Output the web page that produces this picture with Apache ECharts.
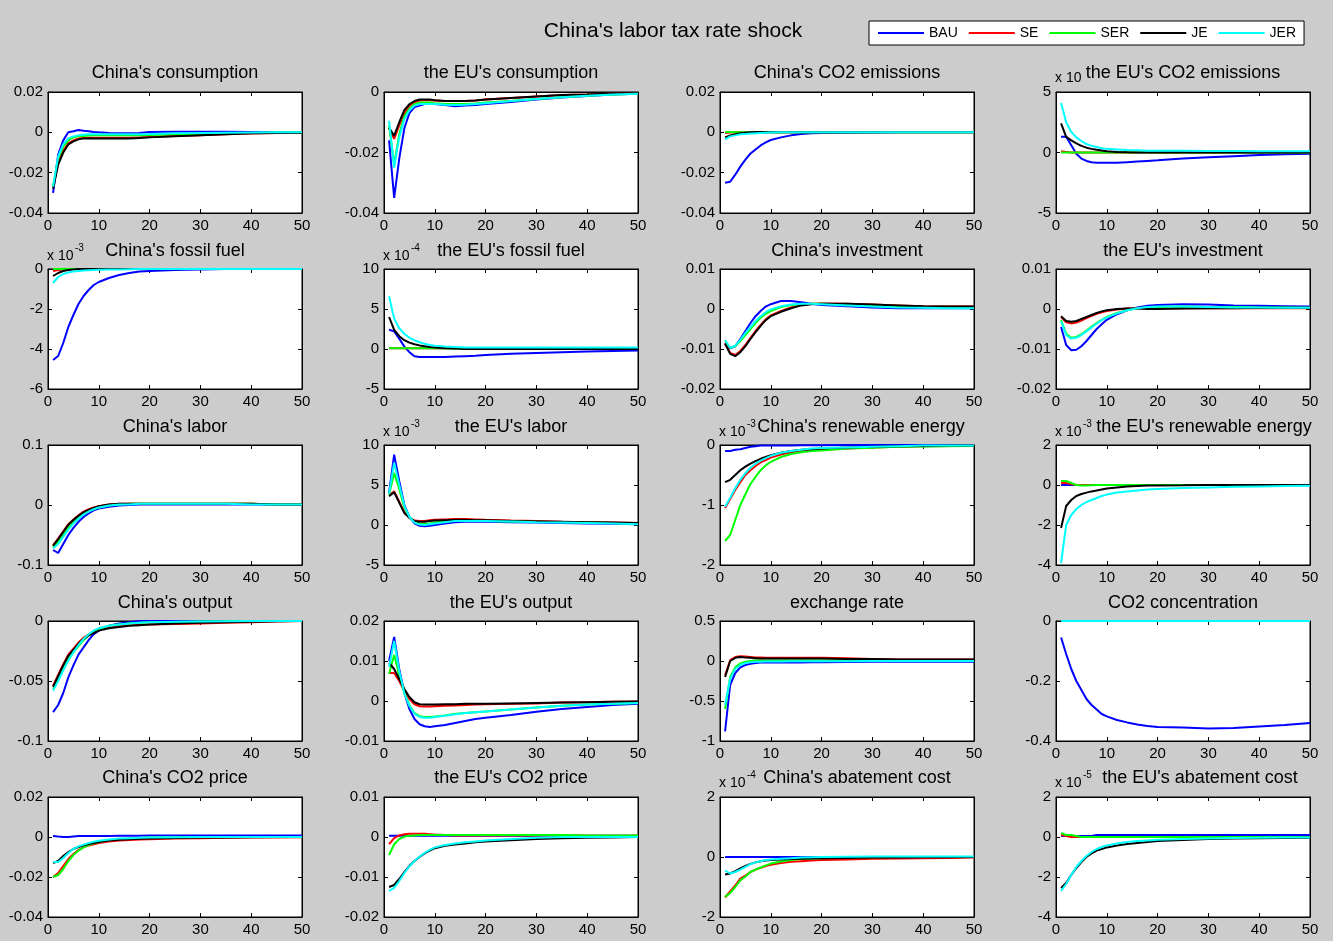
<!DOCTYPE html>
<html>
<head>
<meta charset="utf-8">
<title>China's labor tax rate shock</title>
<script src="https://cdn.jsdelivr.net/npm/echarts@6.0.0/dist/echarts.min.js"></script>
<style>
  html, body { margin: 0; padding: 0; background: #cccccc; }
  #main { width: 1333px; height: 941px; }
</style>
</head>
<body>
<div id="main"></div>
<script>
// periods sampled from the 50-period impulse responses
const periods = [1, 2, 3, 4, 5, 6, 7, 8, 9, 10, 12, 14, 16, 18, 20, 25, 30, 35, 40, 45, 50];
const scenarios = ['BAU', 'SE', 'SER', 'JE', 'JER'];
const colors = ['#0000ff', '#ff0000', '#00ff00', '#000000', '#00ffff'];

// each panel: [BAU, SE, SER, JE, JER]
const cnConsumption = [
  [-0.030, -0.011, -0.004, 0.000, 0.0005, 0.0012, 0.0008, 0.0005, 0.0002, 0.0000, -0.0003, -0.0005, -0.0005, -0.0003, 0.0002, 0.0003, 0.0003, 0.0003, 0.0002, 0.0000, 0.0000],
  [-0.027, -0.015, -0.009, -0.0055, -0.004, -0.003, -0.0028, -0.0027, -0.0027, -0.0027, -0.0027, -0.0027, -0.0027, -0.0025, -0.0023, -0.0018, -0.0014, -0.001, -0.0006, -0.0003, -0.0002],
  [-0.027, -0.013, -0.007, -0.004, -0.0025, -0.002, -0.0018, -0.0016, -0.0015, -0.0015, -0.0015, -0.0015, -0.0015, -0.0014, -0.0013, -0.001, -0.0007, -0.0005, -0.0003, -0.0001, 0],
  [-0.028, -0.016, -0.010, -0.006, -0.0045, -0.0035, -0.003, -0.003, -0.003, -0.003, -0.003, -0.003, -0.003, -0.0028, -0.0025, -0.002, -0.0015, -0.001, -0.0005, -0.0003, -0.0002],
  [-0.027, -0.012, -0.006, -0.003, -0.002, -0.0015, -0.0012, -0.001, -0.001, -0.001, -0.001, -0.001, -0.001, -0.0009, -0.0008, -0.0005, -0.0003, -0.0002, -0.0001, 0, 0]
];
const euConsumption = [
  [-0.016, -0.035, -0.022, -0.012, -0.007, -0.005, -0.0045, -0.004, -0.004, -0.004, -0.0043, -0.0047, -0.0045, -0.0043, -0.004, -0.0033, -0.0025, -0.0018, -0.0013, -0.0008, -0.0006],
  [-0.012, -0.0155, -0.011, -0.007, -0.0045, -0.0033, -0.0028, -0.0027, -0.0027, -0.0028, -0.003, -0.003, -0.003, -0.0028, -0.0025, -0.002, -0.0015, -0.001, -0.0008, -0.0005, -0.0004],
  [-0.011, -0.024, -0.014, -0.008, -0.0055, -0.004, -0.0035, -0.0035, -0.0035, -0.0037, -0.004, -0.004, -0.004, -0.0038, -0.0035, -0.003, -0.0023, -0.0017, -0.0012, -0.0008, -0.0006],
  [-0.0118, -0.0145, -0.010, -0.006, -0.004, -0.003, -0.0025, -0.0025, -0.0025, -0.0027, -0.003, -0.003, -0.003, -0.0028, -0.0025, -0.002, -0.0015, -0.001, -0.0008, -0.0005, -0.0004],
  [-0.0095, -0.025, -0.015, -0.009, -0.006, -0.0045, -0.004, -0.004, -0.004, -0.004, -0.0042, -0.0043, -0.0042, -0.004, -0.0037, -0.003, -0.0023, -0.0017, -0.0012, -0.0008, -0.0006]
];
const cnEmissions = [
  [-0.025, -0.0245, -0.021, -0.017, -0.0135, -0.0105, -0.0085, -0.0065, -0.005, -0.0038, -0.0025, -0.0015, -0.0008, -0.0005, -0.0003, -0.0002, -0.0001, 0, 0, 0, 0],
  [-0.0003, -0.0001, 0, 0, 0, 0, 0, 0, 0, 0, 0, 0, 0, 0, 0, 0, 0, 0, 0, 0, 0],
  [0.0002, 0.0002, 0.0001, 0, 0, 0, 0, 0, 0, 0, 0, 0, 0, 0, 0, 0, 0, 0, 0, 0, 0],
  [-0.0025, -0.0015, -0.001, -0.0005, -0.0002, 0, 0.0002, 0.0002, 0.0001, 0, 0, 0, 0, 0, 0, 0, 0, 0, 0, 0, 0],
  [-0.0035, -0.002, -0.0015, -0.001, -0.0008, -0.0006, -0.0004, -0.0003, -0.0002, -0.0001, 0, 0, 0, 0, 0, 0, 0, 0, 0, 0, 0]
];
const euEmissions = [
  [1.3, 1.3, 0.6, -0.1, -0.5, -0.7, -0.8, -0.85, -0.85, -0.85, -0.85, -0.8, -0.75, -0.7, -0.65, -0.5, -0.4, -0.3, -0.2, -0.15, -0.1],
  [0.1, 0.05, 0, 0, 0, 0, 0, 0, 0, 0, 0, 0, 0, 0, 0, 0, 0, 0, 0, 0, 0],
  [0, 0, 0, 0, 0, 0, 0, 0, 0, 0, 0, 0, 0, 0, 0, 0, 0, 0, 0, 0, 0],
  [2.4, 1.3, 1.0, 0.75, 0.55, 0.4, 0.3, 0.22, 0.16, 0.1, 0.05, 0.02, 0, 0, 0, 0, 0, 0, 0, 0, 0],
  [4.1, 2.5, 1.7, 1.25, 0.95, 0.7, 0.55, 0.45, 0.35, 0.3, 0.25, 0.2, 0.18, 0.15, 0.15, 0.15, 0.12, 0.12, 0.1, 0.1, 0.1]
];
const cnFossil = [
  [-4.55, -4.35, -3.7, -2.9, -2.3, -1.75, -1.35, -1.05, -0.8, -0.65, -0.45, -0.3, -0.2, -0.13, -0.1, -0.05, -0.02, 0, 0, 0, 0],
  [-0.1, -0.05, -0.02, 0, 0, 0, 0, 0, 0, 0, 0, 0, 0, 0, 0, 0, 0, 0, 0, 0, 0],
  [0, 0, 0, 0, 0, 0, 0, 0, 0, 0, 0, 0, 0, 0, 0, 0, 0, 0, 0, 0, 0],
  [-0.35, -0.2, -0.1, -0.05, -0.02, 0, 0, 0, 0, 0, 0, 0, 0, 0, 0, 0, 0, 0, 0, 0, 0],
  [-0.7, -0.4, -0.25, -0.17, -0.12, -0.1, -0.08, -0.06, -0.05, -0.04, -0.03, -0.02, -0.01, 0, 0, 0, 0, 0, 0, 0, 0]
];
const euFossil = [
  [2.4, 2.2, 1.3, 0.3, -0.4, -0.9, -1.0, -1.0, -1.0, -1.0, -1.0, -0.95, -0.9, -0.85, -0.75, -0.6, -0.5, -0.4, -0.3, -0.25, -0.2],
  [0.1, 0.1, 0.1, 0.1, 0.1, 0.1, 0.1, 0.1, 0.1, 0.1, 0.1, 0.1, 0.1, 0.1, 0.1, 0.1, 0.1, 0.1, 0.1, 0.1, 0.1],
  [0.1, 0.1, 0.1, 0.1, 0.1, 0.1, 0.1, 0.1, 0.1, 0.1, 0.1, 0.05, 0, 0, 0, 0, 0, 0, 0, 0, 0],
  [4.0, 2.4, 1.6, 1.1, 0.8, 0.6, 0.45, 0.35, 0.25, 0.2, 0.1, 0.05, 0, 0, 0, 0, 0, 0, 0, 0, 0],
  [6.6, 3.8, 2.6, 1.9, 1.4, 1.1, 0.85, 0.65, 0.5, 0.4, 0.3, 0.25, 0.2, 0.2, 0.2, 0.2, 0.2, 0.2, 0.2, 0.2, 0.2]
];
const cnInvestment = [
  [-0.0085, -0.0098, -0.0093, -0.0075, -0.0055, -0.0035, -0.0018, -0.0005, 0.0006, 0.0012, 0.002, 0.002, 0.0017, 0.0013, 0.001, 0.0007, 0.0004, 0.0002, 0.0002, 0.0002, 0.0002],
  [-0.0085, -0.011, -0.0115, -0.0105, -0.009, -0.0072, -0.0055, -0.004, -0.0026, -0.0016, -0.0005, 0.0004, 0.001, 0.0013, 0.0014, 0.0013, 0.0011, 0.0009, 0.0007, 0.0006, 0.0006],
  [-0.008, -0.0097, -0.0093, -0.008, -0.0065, -0.005, -0.0035, -0.0022, -0.0012, -0.0005, 0.0005, 0.001, 0.0012, 0.0013, 0.0013, 0.0011, 0.0008, 0.0006, 0.0004, 0.0003, 0.0003],
  [-0.0087, -0.0112, -0.0118, -0.0108, -0.0093, -0.0075, -0.0058, -0.0042, -0.0028, -0.0018, -0.0007, 0.0002, 0.0009, 0.0012, 0.0013, 0.0013, 0.0011, 0.0009, 0.0007, 0.0006, 0.0006],
  [-0.0078, -0.0097, -0.0092, -0.0077, -0.006, -0.0045, -0.003, -0.0018, -0.0008, -0.0001, 0.0007, 0.0011, 0.0013, 0.0013, 0.0012, 0.0009, 0.0006, 0.0004, 0.0003, 0.0002, 0.0002]
];
const euInvestment = [
  [-0.0045, -0.009, -0.0103, -0.0102, -0.0093, -0.008, -0.0065, -0.005, -0.0038, -0.0027, -0.0013, -0.0003, 0.0004, 0.0008, 0.001, 0.0012, 0.0011, 0.0009, 0.0008, 0.0007, 0.0006],
  [-0.002, -0.0033, -0.0036, -0.0034, -0.0029, -0.0023, -0.0017, -0.0012, -0.0008, -0.0005, -0.0001, 0.0001, 0.0002, 0.0002, 0.0002, 0.0002, 0.0002, 0.0002, 0.0002, 0.0002, 0.0002],
  [-0.0028, -0.0062, -0.0072, -0.007, -0.0063, -0.0054, -0.0044, -0.0035, -0.0027, -0.002, -0.001, -0.0003, 0.0002, 0.0004, 0.0005, 0.0006, 0.0005, 0.0005, 0.0004, 0.0004, 0.0003],
  [-0.0018, -0.003, -0.0032, -0.003, -0.0025, -0.002, -0.0015, -0.001, -0.0006, -0.0003, 0, 0.0001, 0.0001, 0, 0, 0.0001, 0.0002, 0.0002, 0.0003, 0.0003, 0.0003],
  [-0.003, -0.0065, -0.0074, -0.0072, -0.0065, -0.0056, -0.0046, -0.0037, -0.0028, -0.0021, -0.0011, -0.0003, 0.0002, 0.0005, 0.0006, 0.0006, 0.0005, 0.0004, 0.0004, 0.0003, 0.0003]
];
const cnLabor = [
  [-0.075, -0.080, -0.065, -0.05, -0.038, -0.028, -0.02, -0.014, -0.009, -0.006, -0.003, -0.001, 0, 0.001, 0.001, 0.001, 0.001, 0.001, 0.001, 0.0005, 0],
  [-0.067, -0.056, -0.044, -0.032, -0.024, -0.017, -0.011, -0.007, -0.004, -0.002, 0.001, 0.002, 0.002, 0.002, 0.002, 0.002, 0.002, 0.002, 0.002, 0.001, 0.001],
  [-0.07, -0.062, -0.05, -0.038, -0.029, -0.021, -0.015, -0.01, -0.007, -0.004, -0.001, 0.001, 0.002, 0.002, 0.002, 0.002, 0.002, 0.002, 0.002, 0.001, 0.001],
  [-0.068, -0.057, -0.045, -0.033, -0.025, -0.018, -0.012, -0.008, -0.005, -0.002, 0.001, 0.002, 0.002, 0.002, 0.002, 0.002, 0.002, 0.002, 0.002, 0.001, 0.001],
  [-0.072, -0.065, -0.053, -0.041, -0.031, -0.023, -0.016, -0.011, -0.007, -0.004, -0.001, 0.001, 0.001, 0.002, 0.002, 0.002, 0.002, 0.002, 0.001, 0.001, 0.001]
];
const euLabor = [
  [4.0, 8.8, 5.5, 2.5, 1.0, 0.2, -0.1, -0.15, -0.1, 0.0, 0.2, 0.35, 0.4, 0.4, 0.4, 0.35, 0.3, 0.25, 0.2, 0.15, 0.1],
  [3.7, 4.2, 2.9, 1.6, 0.9, 0.55, 0.5, 0.5, 0.6, 0.65, 0.7, 0.75, 0.75, 0.7, 0.65, 0.55, 0.5, 0.4, 0.35, 0.3, 0.25],
  [3.8, 6.5, 4.5, 2.2, 1.0, 0.4, 0.2, 0.15, 0.2, 0.3, 0.45, 0.55, 0.55, 0.55, 0.5, 0.45, 0.4, 0.35, 0.3, 0.25, 0.2],
  [3.6, 4.1, 2.8, 1.5, 0.9, 0.5, 0.4, 0.4, 0.5, 0.55, 0.6, 0.65, 0.65, 0.6, 0.6, 0.5, 0.45, 0.4, 0.35, 0.3, 0.25],
  [3.9, 7.8, 5.0, 2.4, 1.0, 0.3, 0.05, 0.0, 0.1, 0.2, 0.35, 0.5, 0.5, 0.5, 0.5, 0.45, 0.35, 0.3, 0.25, 0.2, 0.1]
];
const cnRenewable = [
  [-0.1, -0.1, -0.08, -0.07, -0.05, -0.03, -0.02, -0.01, -0.01, -0.01, -0.01, -0.01, -0.005, -0.005, -0.005, 0, 0, 0, 0, 0, 0],
  [-1.05, -0.9, -0.75, -0.62, -0.5, -0.42, -0.35, -0.29, -0.25, -0.21, -0.16, -0.12, -0.1, -0.09, -0.08, -0.06, -0.04, -0.03, -0.02, -0.015, -0.01],
  [-1.6, -1.5, -1.25, -1.0, -0.82, -0.65, -0.53, -0.42, -0.34, -0.28, -0.2, -0.15, -0.12, -0.1, -0.09, -0.06, -0.045, -0.03, -0.025, -0.02, -0.015],
  [-0.62, -0.58, -0.5, -0.42, -0.36, -0.31, -0.27, -0.23, -0.2, -0.17, -0.13, -0.1, -0.08, -0.07, -0.06, -0.04, -0.03, -0.02, -0.015, -0.01, -0.01],
  [-1.03, -0.88, -0.72, -0.58, -0.47, -0.38, -0.31, -0.26, -0.22, -0.18, -0.13, -0.1, -0.08, -0.06, -0.05, -0.04, -0.03, -0.02, -0.01, -0.01, -0.01]
];
const euRenewable = [
  [0, 0, 0, 0, 0, 0, 0, 0, 0, 0, 0, 0, 0, 0, 0, 0, 0, 0, 0, 0, 0],
  [0.1, 0.1, 0.05, 0, 0, 0, 0, 0, 0, 0, 0, 0, 0, 0, 0, 0, 0, 0, 0, 0, 0],
  [0.2, 0.2, 0.1, 0, -0.02, -0.02, -0.01, 0, 0, 0, 0, 0, 0, 0, 0, 0, 0, 0, 0, 0, 0],
  [-2.15, -1.05, -0.75, -0.55, -0.45, -0.38, -0.32, -0.27, -0.22, -0.18, -0.12, -0.08, -0.05, -0.03, -0.02, -0.01, 0, 0, 0, 0, 0],
  [-3.9, -2.0, -1.5, -1.2, -1.0, -0.85, -0.75, -0.65, -0.55, -0.48, -0.38, -0.32, -0.27, -0.23, -0.2, -0.15, -0.12, -0.09, -0.07, -0.05, -0.04]
];
const cnOutput = [
  [-0.076, -0.07, -0.06, -0.047, -0.037, -0.028, -0.022, -0.016, -0.011, -0.008, -0.004, -0.002, -0.001, 0, 0, 0, 0, 0, 0, 0, 0],
  [-0.054, -0.045, -0.036, -0.028, -0.023, -0.018, -0.014, -0.011, -0.009, -0.007, -0.005, -0.004, -0.0035, -0.003, -0.003, -0.0025, -0.002, -0.0015, -0.001, -0.0005, 0],
  [-0.057, -0.049, -0.04, -0.032, -0.026, -0.021, -0.016, -0.012, -0.009, -0.007, -0.004, -0.003, -0.002, -0.0015, -0.001, -0.0008, -0.0005, -0.0003, 0, 0, 0],
  [-0.055, -0.046, -0.037, -0.029, -0.024, -0.019, -0.015, -0.012, -0.01, -0.008, -0.006, -0.005, -0.004, -0.0035, -0.003, -0.002, -0.0015, -0.001, -0.0007, -0.0003, 0],
  [-0.058, -0.05, -0.041, -0.033, -0.026, -0.02, -0.015, -0.011, -0.008, -0.006, -0.004, -0.003, -0.002, -0.0015, -0.001, -0.0007, -0.0004, -0.0002, 0, 0, 0]
];
const euOutput = [
  [0.01, 0.016, 0.008, 0.002, -0.002, -0.0045, -0.0058, -0.0063, -0.0065, -0.0063, -0.006, -0.0055, -0.005, -0.0045, -0.0042, -0.0035, -0.0027, -0.002, -0.0015, -0.001, -0.0007],
  [0.007, 0.007, 0.005, 0.0025, 0.0005, -0.0008, -0.0013, -0.0014, -0.0014, -0.0013, -0.0012, -0.0011, -0.001, -0.0009, -0.0008, -0.0007, -0.0006, -0.0004, -0.0003, -0.0002, -0.0001],
  [0.0068, 0.0115, 0.0065, 0.002, -0.001, -0.003, -0.0038, -0.004, -0.004, -0.0039, -0.0036, -0.0032, -0.003, -0.0028, -0.0026, -0.0021, -0.0016, -0.0012, -0.0009, -0.0007, -0.0005],
  [0.0095, 0.008, 0.0055, 0.003, 0.001, -0.0003, -0.0008, -0.0009, -0.0009, -0.0009, -0.0008, -0.0008, -0.0007, -0.0007, -0.0007, -0.0006, -0.0005, -0.0004, -0.0003, -0.0002, -0.0001],
  [0.0085, 0.015, 0.0075, 0.002, -0.0012, -0.0032, -0.004, -0.0042, -0.0042, -0.004, -0.0037, -0.0033, -0.003, -0.0028, -0.0026, -0.0021, -0.0016, -0.0012, -0.0009, -0.0007, -0.0005]
];
const exchangeRate = [
  [-0.88, -0.3, -0.15, -0.08, -0.05, -0.035, -0.025, -0.02, -0.02, -0.02, -0.02, -0.02, -0.018, -0.017, -0.015, -0.013, -0.01, -0.01, -0.01, -0.01, -0.01],
  [-0.18, 0.01, 0.05, 0.06, 0.055, 0.05, 0.045, 0.045, 0.04, 0.04, 0.04, 0.04, 0.04, 0.04, 0.04, 0.035, 0.025, 0.02, 0.02, 0.02, 0.02],
  [-0.6, -0.2, -0.08, -0.03, -0.01, 0, 0.005, 0.005, 0.005, 0.005, 0.005, 0.005, 0.005, 0.005, 0.005, 0.005, 0.005, 0.005, 0.005, 0.005, 0.005],
  [-0.2, 0, 0.04, 0.05, 0.045, 0.04, 0.035, 0.03, 0.03, 0.03, 0.03, 0.03, 0.03, 0.03, 0.03, 0.025, 0.025, 0.02, 0.02, 0.02, 0.02],
  [-0.55, -0.22, -0.1, -0.05, -0.025, -0.015, -0.01, -0.008, -0.006, -0.005, -0.005, -0.004, -0.004, -0.003, -0.003, -0.002, -0.001, 0, 0, 0, 0]
];
const co2Concentration = [
  [-0.055, -0.11, -0.16, -0.2, -0.23, -0.26, -0.28, -0.295, -0.31, -0.318, -0.33, -0.338, -0.345, -0.35, -0.353, -0.355, -0.358, -0.357, -0.352, -0.347, -0.34],
  [0, 0, 0, 0, 0, 0, 0, 0, 0, 0, 0, 0, 0, 0, 0, 0, 0, 0, 0, 0, 0],
  [0, 0, 0, 0, 0, 0, 0, 0, 0, 0, 0, 0, 0, 0, 0, 0, 0, 0, 0, 0, 0],
  [0, 0, 0, 0, 0, 0, 0, 0, 0, 0, 0, 0, 0, 0, 0, 0, 0, 0, 0, 0, 0],
  [0, 0, 0, 0, 0, 0, 0, 0, 0, 0, 0, 0, 0, 0, 0, 0, 0, 0, 0, 0, 0]
];
const cnCo2Price = [
  [0.0005, 0.0002, 0, 0, 0.0003, 0.0005, 0.0005, 0.0005, 0.0005, 0.0005, 0.0005, 0.0006, 0.0006, 0.0006, 0.0007, 0.0007, 0.0007, 0.0007, 0.0007, 0.0007, 0.0007],
  [-0.02, -0.018, -0.0145, -0.011, -0.0085, -0.0065, -0.005, -0.0043, -0.0037, -0.003, -0.0023, -0.0018, -0.0015, -0.0013, -0.0011, -0.0008, -0.0006, -0.0004, -0.0003, -0.0002, -0.0001],
  [-0.02, -0.019, -0.016, -0.012, -0.009, -0.0068, -0.0052, -0.004, -0.0032, -0.0025, -0.0016, -0.001, -0.0007, -0.0005, -0.0003, -0.0001, 0, 0, 0, 0, 0],
  [-0.013, -0.012, -0.0095, -0.0075, -0.006, -0.005, -0.0042, -0.0035, -0.003, -0.0025, -0.0018, -0.0014, -0.0011, -0.0009, -0.0007, -0.0005, -0.0003, -0.0002, -0.0001, 0, 0],
  [-0.0125, -0.0125, -0.0105, -0.008, -0.006, -0.0047, -0.0038, -0.003, -0.0024, -0.0019, -0.0012, -0.0008, -0.0006, -0.0004, -0.0003, -0.0001, 0, 0, 0, 0, 0]
];
const euCo2Price = [
  [0.0003, 0.0003, 0.0003, 0.0003, 0.0003, 0.0003, 0.0003, 0.0003, 0.0003, 0.0003, 0.0003, 0.0003, 0.0003, 0.0003, 0.0003, 0.0003, 0.0003, 0.0003, 0.0003, 0.0003, 0.0003],
  [-0.0018, -0.0003, 0.0004, 0.0007, 0.0008, 0.0008, 0.0008, 0.0008, 0.0007, 0.0006, 0.0005, 0.0004, 0.0004, 0.0004, 0.0004, 0.0004, 0.0004, 0.0004, 0.0003, 0.0003, 0.0003],
  [-0.0045, -0.0018, -0.0005, 0.0001, 0.0003, 0.0004, 0.0005, 0.0005, 0.0005, 0.0005, 0.0005, 0.0005, 0.0005, 0.0005, 0.0005, 0.0005, 0.0005, 0.0005, 0.0004, 0.0004, 0.0004],
  [-0.0125, -0.012, -0.0105, -0.0088, -0.0072, -0.006, -0.005, -0.0041, -0.0034, -0.0028, -0.0022, -0.0019, -0.0016, -0.0013, -0.0011, -0.0008, -0.0005, -0.0003, -0.0002, -0.0001, 0],
  [-0.0135, -0.0127, -0.011, -0.009, -0.0073, -0.006, -0.0049, -0.004, -0.0032, -0.0026, -0.002, -0.0016, -0.0013, -0.0011, -0.0009, -0.0005, -0.0002, 0, 0, 0, 0]
];
const cnAbatement = [
  [0, 0, 0, 0, 0, 0, 0, 0, 0, 0, 0, 0, 0, 0, 0, 0, 0, 0, 0, 0, 0],
  [-1.35, -1.15, -0.95, -0.72, -0.62, -0.5, -0.42, -0.36, -0.3, -0.26, -0.2, -0.16, -0.14, -0.12, -0.1, -0.08, -0.06, -0.05, -0.04, -0.03, -0.02],
  [-1.33, -1.2, -1.0, -0.78, -0.65, -0.5, -0.42, -0.35, -0.28, -0.22, -0.15, -0.1, -0.07, -0.05, -0.04, -0.02, -0.01, 0, 0, 0, 0],
  [-0.58, -0.55, -0.47, -0.38, -0.3, -0.23, -0.18, -0.14, -0.12, -0.1, -0.08, -0.07, -0.06, -0.05, -0.04, -0.03, -0.02, -0.015, -0.01, -0.005, 0],
  [-0.45, -0.55, -0.5, -0.42, -0.33, -0.24, -0.18, -0.14, -0.1, -0.08, -0.06, -0.04, -0.02, -0.01, 0, 0.01, 0.02, 0.02, 0.02, 0.02, 0.02]
];
const euAbatement = [
  [0.05, 0.05, 0.05, 0.05, 0.05, 0.05, 0.05, 0.1, 0.1, 0.1, 0.1, 0.1, 0.1, 0.1, 0.1, 0.1, 0.1, 0.1, 0.1, 0.1, 0.1],
  [0.1, 0.05, 0, 0, 0, 0, 0, 0, 0, 0, 0, 0, 0, 0, 0, 0, 0, 0, 0, 0, 0],
  [0.2, 0.1, 0.1, 0.05, 0, 0, 0, 0, 0, 0, 0, 0, 0, 0, 0, 0, 0, 0, 0, 0, 0],
  [-2.55, -2.3, -1.9, -1.55, -1.25, -1.0, -0.82, -0.68, -0.6, -0.52, -0.42, -0.35, -0.3, -0.25, -0.2, -0.15, -0.1, -0.08, -0.06, -0.05, -0.04],
  [-2.7, -2.35, -1.9, -1.5, -1.2, -0.95, -0.75, -0.6, -0.5, -0.42, -0.32, -0.25, -0.2, -0.17, -0.14, -0.1, -0.07, -0.05, -0.04, -0.03, -0.02]
];

// panels in reading order: title, data, y range / step, exponent label
const panels = [
  { title: "China's consumption", data: cnConsumption, min: -0.04, max: 0.02, step: 0.02 },
  { title: "the EU's consumption", data: euConsumption, min: -0.04, max: 0, step: 0.02 },
  { title: "China's CO2 emissions", data: cnEmissions, min: -0.04, max: 0.02, step: 0.02 },
  { title: "the EU's CO2 emissions", data: euEmissions, min: -5, max: 5, step: 5, exp: '' },
  { title: "China's fossil fuel", data: cnFossil, min: -6, max: 0, step: 2, exp: '-3' },
  { title: "the EU's fossil fuel", data: euFossil, min: -5, max: 10, step: 5, exp: '-4' },
  { title: "China's investment", data: cnInvestment, min: -0.02, max: 0.01, step: 0.01 },
  { title: "the EU's investment", data: euInvestment, min: -0.02, max: 0.01, step: 0.01 },
  { title: "China's labor", data: cnLabor, min: -0.1, max: 0.1, step: 0.1 },
  { title: "the EU's labor", data: euLabor, min: -5, max: 10, step: 5, exp: '-3' },
  { title: "China's renewable energy", data: cnRenewable, min: -2, max: 0, step: 1, exp: '-3', tx: 861 },
  { title: "the EU's renewable energy", data: euRenewable, min: -4, max: 2, step: 2, exp: '-3', tx: 1204 },
  { title: "China's output", data: cnOutput, min: -0.1, max: 0, step: 0.05 },
  { title: "the EU's output", data: euOutput, min: -0.01, max: 0.02, step: 0.01 },
  { title: "exchange rate", data: exchangeRate, min: -1, max: 0.5, step: 0.5 },
  { title: "CO2 concentration", data: co2Concentration, min: -0.4, max: 0, step: 0.2 },
  { title: "China's CO2 price", data: cnCo2Price, min: -0.04, max: 0.02, step: 0.02 },
  { title: "the EU's CO2 price", data: euCo2Price, min: -0.02, max: 0.01, step: 0.01 },
  { title: "China's abatement cost", data: cnAbatement, min: -2, max: 2, step: 2, exp: '-4', tx: 857 },
  { title: "the EU's abatement cost", data: euAbatement, min: -4, max: 2, step: 2, exp: '-5', tx: 1200 }
];

const FONT = '"Liberation Sans", Arial, Helvetica, sans-serif';
const colLeft = [48, 384, 720, 1056];
const rowTop = [92, 269, 445, 621, 797];
const plotW = 254, plotH = 120;

const chart = echarts.init(document.getElementById('main'));

const grids = [], xAxes = [], yAxes = [], series = [], graphics = [];

graphics.push({
  type: 'text', x: 673, y: 31,
  style: { text: "China's labor tax rate shock", font: '21px ' + FONT, fill: '#000',
    align: 'center', verticalAlign: 'middle', textAlign: 'center', textVerticalAlign: 'middle' }
});

panels.forEach(function (p, i) {
  const r = Math.floor(i / 4), c = i % 4;
  const left = colLeft[c], top = rowTop[r];
  grids.push({
    left: left, top: top, width: plotW, height: r === 0 ? 121 : plotH,
    show: true, backgroundColor: '#ffffff', borderColor: '#000', borderWidth: 1
  });
  const tick = { show: true, inside: true, length: 4, lineStyle: { color: '#000', width: 1 } };
  const line = { show: true, onZero: false, lineStyle: { color: '#000', width: 1 } };
  xAxes.push({
    type: 'value', gridIndex: i, min: 0, max: 50, interval: 10, position: 'bottom',
    axisLine: line, axisTick: tick, splitLine: { show: false },
    axisLabel: { color: '#000', fontSize: 15, fontFamily: FONT, margin: 5 }
  });
  xAxes.push({
    type: 'value', gridIndex: i, min: 0, max: 50, interval: 10, position: 'top',
    axisLine: line, axisTick: tick, splitLine: { show: false }, axisLabel: { show: false }
  });
  yAxes.push({
    type: 'value', gridIndex: i, min: p.min, max: p.max, interval: p.step, position: 'left',
    axisLine: line, axisTick: tick, splitLine: { show: false },
    axisLabel: { color: '#000', fontSize: 15, fontFamily: FONT, margin: 5 }
  });
  yAxes.push({
    type: 'value', gridIndex: i, min: p.min, max: p.max, interval: p.step, position: 'right',
    axisLine: line, axisTick: tick, splitLine: { show: false }, axisLabel: { show: false }
  });

  p.data.forEach(function (vals, k) {
    series.push({
      name: scenarios[k], type: 'line',
      xAxisIndex: 2 * i, yAxisIndex: 2 * i,
      symbol: 'none', clip: false,
      lineStyle: { color: colors[k], width: 2 },
      itemStyle: { color: colors[k] },
      data: periods.map(function (t, j) { return [t, vals[j]]; })
    });
  });

  const titleY = [73, 251, 427, 603, 778][r];
  graphics.push({
    type: 'text', x: p.tx || (left + plotW / 2), y: titleY,
    style: { text: p.title, font: '18px ' + FONT, fill: '#000',
      align: 'center', verticalAlign: 'middle', textAlign: 'center', textVerticalAlign: 'middle' }
  });
  if (p.exp !== undefined) {
    graphics.push({
      type: 'text', x: left - 1, y: titleY + 5,
      style: { text: 'x 10', font: '14px ' + FONT, fill: '#000',
        align: 'left', verticalAlign: 'middle', textAlign: 'left', textVerticalAlign: 'middle' }
    });
    if (p.exp) {
      graphics.push({
        type: 'text', x: left + 27, y: titleY - 3,
        style: { text: p.exp, font: '10px ' + FONT, fill: '#000',
          align: 'left', verticalAlign: 'middle', textAlign: 'left', textVerticalAlign: 'middle' }
      });
    }
  }
});

chart.setOption({
  animation: false,
  backgroundColor: '#cccccc',
  legend: {
    data: scenarios, left: 869, top: 21, orient: 'horizontal',
    icon: 'rect', itemWidth: 46, itemHeight: 2, itemGap: 11,
    padding: [5, 8, 5, 9],
    backgroundColor: '#ffffff', borderColor: '#000', borderWidth: 1,
    textStyle: { color: '#000', fontSize: 14, fontFamily: FONT },
    selectedMode: false
  },
  grid: grids,
  xAxis: xAxes,
  yAxis: yAxes,
  graphic: graphics,
  series: series
});
</script>
</body>
</html>
